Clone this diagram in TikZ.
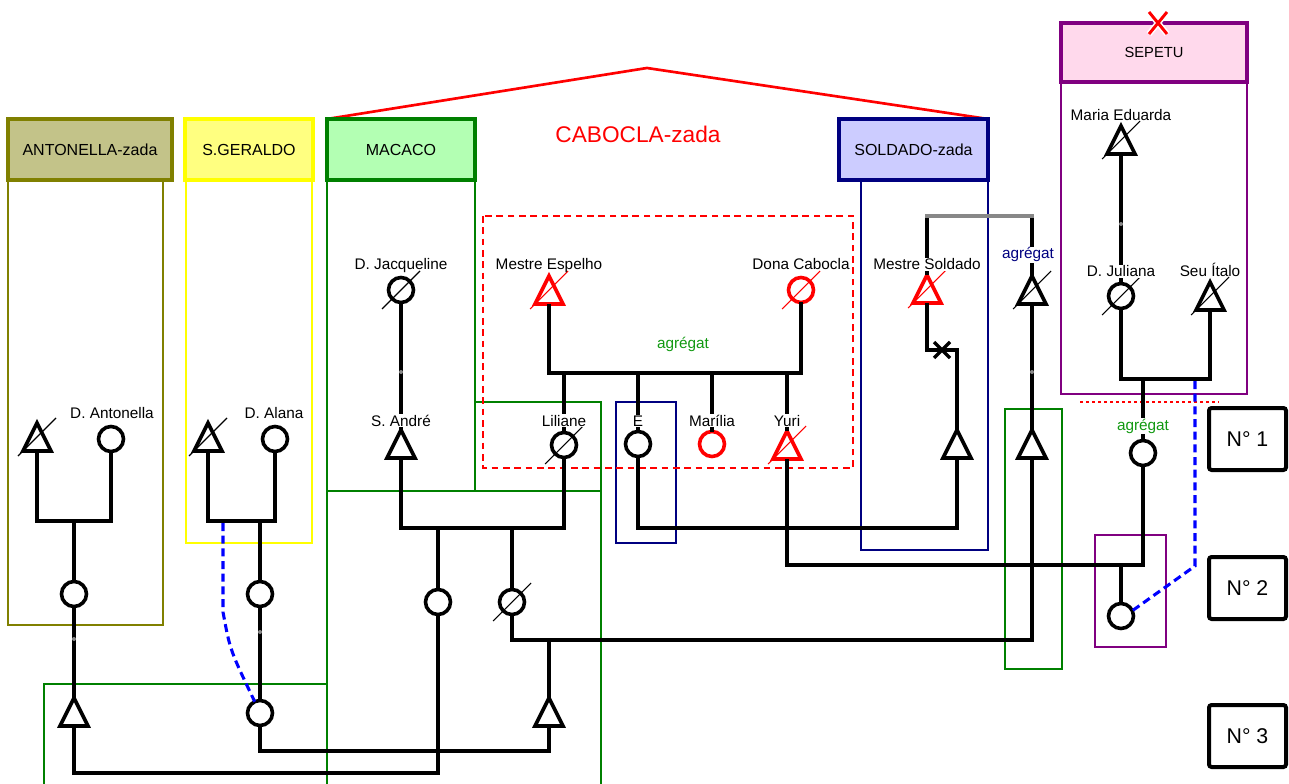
\documentclass[tikz,border=0pt]{standalone}
\usepackage{fontspec}
\setmainfont{Liberation Sans}
\definecolor{olv}{HTML}{808000}
\definecolor{olvfill}{HTML}{C3C389}
\definecolor{ylw}{HTML}{FFFF00}
\definecolor{ylwfill}{HTML}{FFFF80}
\definecolor{grn}{HTML}{008000}
\definecolor{grnfill}{HTML}{B3FFB3}
\definecolor{nvy}{HTML}{000080}
\definecolor{nvyfill}{HTML}{CCCCFF}
\definecolor{prp}{HTML}{800080}
\definecolor{prpfill}{HTML}{FFD9EC}
\definecolor{aggrn}{HTML}{119911}
\definecolor{dotgrey}{HTML}{888888}
\tikzset{
  lk/.style={line width=2.7pt, black},
  frame/.style={line width=1.5pt},
  hdr/.style={draw, line width=3pt, inner sep=0, minimum height=45.75pt, font=\fontsize{12}{14}\selectfont},
  fem/.style={circle, draw, line width=2.7pt, minimum size=18.75pt, inner sep=0, outer sep=0, fill=white},
  malen/.style={rectangle, minimum width=21pt, minimum height=21pt, inner sep=0, outer sep=0},
  tri/.style={line width=2.7pt, fill=white, line join=miter},
  dslash/.style={line width=0.8pt},
  lbl/.style={font=\fontsize{11.5}{13}\selectfont, anchor=base, inner sep=0.6pt},
  lblm/.style={lbl, fill=white},
  gdot/.style={circle, fill=dotgrey, inner sep=0, minimum size=3pt},
  bdash/.style={line width=2.3pt, blue, dash pattern=on 6pt off 3.5pt},
  nbox/.style={draw, line width=3pt, rounded corners=2pt, inner sep=0, minimum width=57.75pt, minimum height=46.5pt, font=\fontsize{16}{18}\selectfont},
}
\newcommand\Mnode[3][black]{\node[malen] (#2) at (#3) {};
  \draw[tri,draw=#1] (#2.center) ++(0,-14) -- ++(14,28) -- ++(-28,0) -- cycle;}
\newcommand\Fnode[3][black]{\node[fem,draw=#1] (#2) at (#3) {};}
\newcommand\Dslash[2][black]{\draw[dslash,#1] ([shift={(-19,19)}]#2.center) -- ([shift={(19,-19)}]#2.center);}
\begin{document}
\begin{tikzpicture}[x=0.75pt,y=-0.75pt]
\useasboundingbox (0,0) rectangle (1289,784);
\clip (0,0) rectangle (1289,784);
% frames
\draw[frame, olv] (8,150) rectangle (163,625);
\draw[frame, ylw] (186,150) rectangle (312,543);
\draw[frame, grn] (327,150) rectangle (475,491);
\draw[frame, grn] (475,402) rectangle (601,491);
\draw[frame, grn] (327,491) rectangle (601,800);
\draw[frame, grn] (44,684) rectangle (327,800);
\draw[frame, nvy] (861,150) rectangle (988,550);
\draw[frame, nvy] (616,402) rectangle (676,543);
\draw[frame, grn] (1005,409) rectangle (1062,669);
\draw[frame, prp] (1061,60) rectangle (1247,394);
\draw[frame, prp] (1095,535) rectangle (1166,647);
% roof
\draw[red, line width=2pt] (327,119) -- (647,68) -- (988,119);
\node[red, font=\fontsize{17}{20}\selectfont] (cabT) at (638,134) {CABOCLA-zada};
% headers
\node[hdr, draw=olv, fill=olvfill, minimum width=123pt] (hAnt) at (90,149.5) {ANTONELLA-zada};
\node[hdr, draw=ylw, fill=ylwfill, minimum width=96pt] (hGer) at (249,149.5) {S.GERALDO};
\node[hdr, draw=grn, fill=grnfill, minimum width=111pt] (hMac) at (401,149.5) {MACACO};
\node[hdr, draw=nvy, fill=nvyfill, minimum width=111.75pt] (hSol) at (913.5,149.5) {SOLDADO-zada};
\node[hdr, draw=prp, fill=prpfill, minimum width=139.5pt, minimum height=44.25pt, font=\fontsize{11}{13}\selectfont] (hSep) at (1154,52.5) {SEPETU};
\draw[white, line width=4.5pt] (1149,12) -- (1167,34) (1167,12) -- (1149,34);
\draw[red, line width=2.2pt] (1149,12) -- (1167,34) (1167,12) -- (1149,34);
% red dashed group
\draw[red, line width=2pt, dash pattern=on 5pt off 3.5pt] (483,216) rectangle (853,468);
\draw[red, line width=1.6pt, dash pattern=on 2.2pt off 2.3pt] (1080,402) -- (1219,402);
% symbols
\Fnode{jacq}{401,290}
\Mnode[red]{espelho}{549,290}
\Fnode[red]{cabocla}{801,290}
\Mnode[red]{soldado}{927,289}
\Mnode{tri2}{1032,290}
\Mnode{andre}{401,444}
\Fnode{liliane}{564,445}
\Fnode{eN}{638,444}
\Fnode[red]{marilia}{712,444}
\Mnode[red]{yuri}{787,445}
\Mnode{schild}{957,444}
\Mnode{tri3}{1032,444}
\Mnode{mariaed}{1121,140}
\Fnode{juliana}{1121,296}
\Mnode{italo}{1210,296}
\Fnode{sepchild}{1143,453}
\Fnode{cfin}{1121,616}
\Mnode{antM}{37,437}
\Fnode{antF}{111,439}
\Fnode{ac1}{74,594}
\Mnode{at1}{74,712}
\Mnode{gM}{208,437}
\Fnode{gF}{275,439}
\Fnode{gc1}{260,594}
\Fnode{gc2}{260,713}
\Fnode{c438}{438,602}
\Fnode{c512}{512,602}
\Mnode{m549}{549,712}
% kinship lines
\coordinate (cb) at (675,373);
\draw[lk] (espelho.south) |- (cb) -| (cabocla.south);
\draw[lk] (liliane.north |- cb) -- (liliane.north);
\draw[lk] (eN.north |- cb) -- (eN.north);
\draw[lk] (marilia.north |- cb) -- (marilia.north);
\draw[lk] (yuri.north |- cb) -- (yuri.north);
\draw[lk] (jacq.south) -- (andre.north);
\coordinate (al) at (475,528);
\draw[lk] (andre.south) |- (al) -| (liliane.south);
\draw[lk] (c438.north |- al) -- (c438.north);
\draw[lk] (c512.north |- al) -- (c512.north);
\coordinate (ej) at (800,528);
\draw[lk] (eN.south) |- (ej) -| (schild.south);
\coordinate (sg) at (980,216);
\draw[lk] (soldado.north |- sg) -- (soldado.north);
\draw[lk] (tri2.north |- sg) -- (tri2.north);
\draw[line width=2.7pt, dotgrey, line cap=rect] (soldado.north |- sg) -- (tri2.north |- sg);
\coordinate (sx) at (942,350);
\draw[lk] (soldado.south) |- (sx) -| (schild.north);
\draw[line width=2.4pt] ([shift={(-8,-8)}]sx) -- ([shift={(8,8)}]sx) ([shift={(-8,8)}]sx) -- ([shift={(8,-8)}]sx);
\draw[lk] (tri2.south) -- (tri3.north);
\coordinate (j640) at (700,640);
\draw[lk] (tri3.south) |- (j640) -| (c512.south);
\draw[lk] (m549.north |- j640) -- (m549.north);
\coordinate (yj) at (950,565);
\draw[lk] (yuri.south) |- (yj) -| (sepchild.south);
\draw[lk] (cfin.north |- yj) -- (cfin.north);
\draw[lk] (mariaed.south) -- (juliana.north);
\coordinate (sj) at (1165,379);
\draw[lk] (juliana.south) |- (sj) -| (italo.south);
\draw[lk] (sepchild.north |- sj) -- (sepchild.north);
\coordinate (aj) at (74,521);
\draw[lk] (antM.south) |- (aj) -| (antF.south);
\draw[lk] (aj) -- (ac1.north);
\draw[lk] (ac1.south) -- (at1.north);
\coordinate (bj) at (300,773);
\draw[lk] (at1.south) |- (bj) -| (c438.south);
\coordinate (gj) at (260,521);
\draw[lk] (gM.south) |- (gj) -| (gF.south);
\draw[lk] (gj) -- (gc1.north);
\draw[lk] (gc1.south) -- (gc2.north);
\coordinate (gj2) at (400,751);
\draw[lk] (gc2.south) |- (gj2) -| (m549.south);
% grey dots
\node[gdot] (gd1) at (401,372) {};
\node[gdot] (gd2) at (1032,372) {};
\node[gdot] (gd3) at (1121,224) {};
\node[gdot] (gd4) at (74,639) {};
\node[gdot] (gd5) at (260,632) {};
% slashes
\Dslash{jacq}
\Dslash[red]{espelho}
\Dslash[red]{cabocla}
\Dslash[red]{soldado}
\Dslash{tri2}
\Dslash{liliane}
\Dslash[red]{yuri}
\Dslash{mariaed}
\Dslash{juliana}
\Dslash{italo}
\Dslash{antM}
\Dslash{gM}
\Dslash{c512}
% blue dashed
\coordinate (bd1) at (223,523);
\draw[bdash] (bd1) -- (223,612) .. controls (230,650) .. (gc2.115);
\coordinate (bd2) at (1195,381);
\draw[bdash] (bd2) -- (1195,566) -- (cfin.25);
% labels
\node[lbl] (lJacq) at (401,270) {D. Jacqueline};
\node[lbl] (lEsp) at (549,270) {Mestre Espelho};
\node[lbl] (lCab) at (801,270) {Dona Cabocla};
\node[lblm] (lSol) at (927,270) {Mestre Soldado};
\node[lblm, text=nvy] (lAggN) at (1028,259) {agrégat};
\node[lbl, text=aggrn] (lAgg1) at (683,349) {agrégat};
\node[lblm] (lAnd) at (401,426) {S. André};
\node[lblm] (lLil) at (564,426) {Liliane};
\node[lblm] (lE) at (638,426) {E};
\node[lblm] (lMar) at (712,426) {Marília};
\node[lblm] (lYuri) at (787,426) {Yuri};
\node[lbl] (lME) at (1121,121) {Maria Eduarda};
\node[lblm] (lJul) at (1121,277) {D. Juliana};
\node[lbl] (lIt) at (1210,277) {Seu Ítalo};
\node[lblm, text=aggrn] (lAgg2) at (1143,430) {agrégat};
\node[lbl] (lAnt) at (112,418) {D. Antonella};
\node[lbl] (lAla) at (274,418) {D. Alana};
% number boxes
\node[nbox] (n1) at (1247.5,439) {N° 1};
\node[nbox] (n2) at (1247.5,588) {N° 2};
\node[nbox] (n3) at (1247.5,736) {N° 3};
\end{tikzpicture}
\end{document}
